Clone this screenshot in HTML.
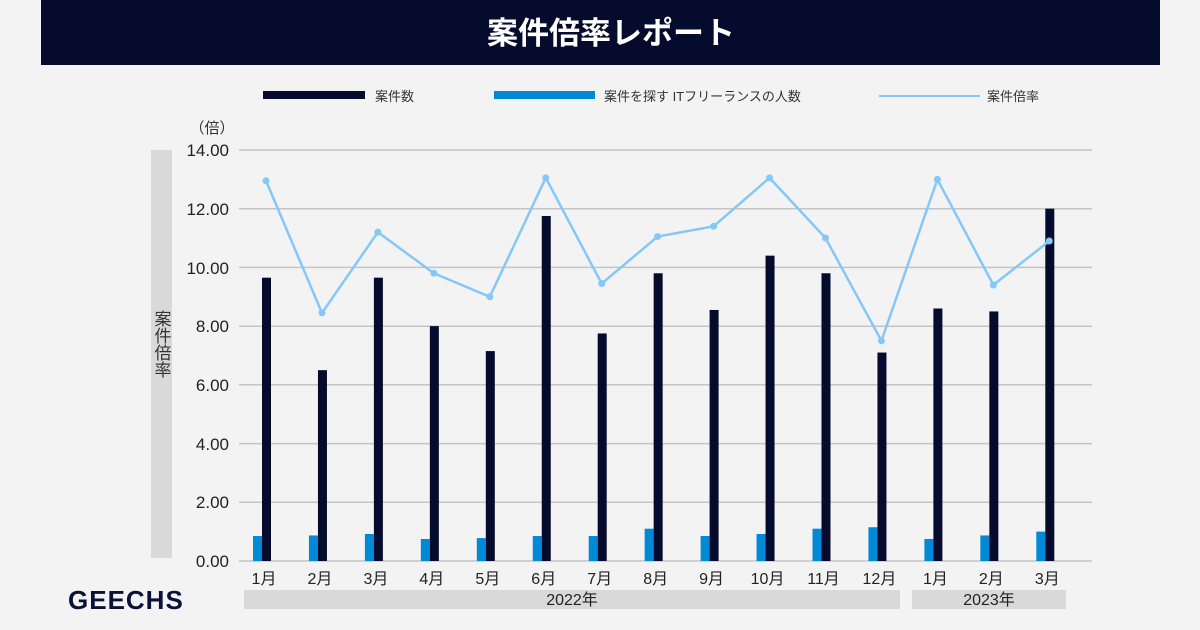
<!DOCTYPE html>
<html><head><meta charset="utf-8"><style>
html,body{margin:0;padding:0;background:#f3f3f3;}
svg{display:block}
text{font-family:"Liberation Sans","Noto Sans CJK JP",sans-serif;}
</style></head><body>
<svg width="1200" height="630" viewBox="0 0 1200 630" xmlns="http://www.w3.org/2000/svg">
<rect width="1200" height="630" fill="#f3f3f3"/>
<rect x="41" y="0" width="1119" height="65" fill="#050b2c"/>
<text x="611" y="44" fill="#fff" font-size="31" font-weight="bold" text-anchor="middle">案件倍率レポート</text>
<!-- legend -->
<rect x="263" y="91" width="102" height="8" fill="#050b2c"/>
<text x="375" y="101" font-size="13" fill="#333">案件数</text>
<rect x="494" y="91" width="101" height="8" fill="#0089d6"/>
<text x="604" y="101" font-size="13" fill="#333">案件を探す ITフリーランスの人数</text>
<line x1="879" y1="96" x2="980" y2="96" stroke="#85c8f7" stroke-width="2"/>
<text x="987" y="101" font-size="13" fill="#333">案件倍率</text>
<!-- y label -->
<rect x="151" y="150" width="21" height="408" fill="#d9d9d9"/>
<text x="161" y="310" font-size="17" fill="#333" writing-mode="tb" text-anchor="start">案件倍率</text>
<text x="212" y="133" font-size="15" fill="#333" text-anchor="middle">（倍）</text>
<g stroke="#c4c4c4" stroke-width="1.5">
<line x1="239" y1="150" x2="1092" y2="150"/>
<line x1="239" y1="208.7" x2="1092" y2="208.7"/>
<line x1="239" y1="267.4" x2="1092" y2="267.4"/>
<line x1="239" y1="326.2" x2="1092" y2="326.2"/>
<line x1="239" y1="384.8" x2="1092" y2="384.8"/>
<line x1="239" y1="443.6" x2="1092" y2="443.6"/>
<line x1="239" y1="502.3" x2="1092" y2="502.3"/>
<line x1="239" y1="561" x2="1092" y2="561"/>
</g>
<g font-size="17" fill="#222" text-anchor="end">
<text x="229" y="156">14.00</text>
<text x="229" y="215">12.00</text>
<text x="229" y="274">10.00</text>
<text x="229" y="332">8.00</text>
<text x="229" y="391">6.00</text>
<text x="229" y="450">4.00</text>
<text x="229" y="508">2.00</text>
<text x="229" y="567">0.00</text>
</g>
<g id="bars"></g>
<polyline id="ln" fill="none" stroke="#85c8f7" stroke-width="2.5"/>
<g id="dots" fill="#85c8f7"></g>
<g id="xl" font-size="16" fill="#222" text-anchor="middle"></g>
<rect x="244" y="590" width="656" height="19" fill="#d9d9d9"/>
<rect x="912" y="590" width="154" height="19" fill="#d9d9d9"/>
<text x="572" y="605" font-size="16" fill="#222" text-anchor="middle">2022年</text>
<text x="989" y="605" font-size="16" fill="#222" text-anchor="middle">2023年</text>
<text x="68" y="609" font-size="26" font-weight="bold" fill="#0b1238" letter-spacing="1">GEECHS</text>
</svg>
<script>
var d=[9.65,6.5,9.65,8.0,7.15,11.75,7.75,9.8,8.55,10.4,9.8,7.1,8.6,8.5,12.0];
var b=[0.85,0.87,0.92,0.75,0.78,0.85,0.85,1.1,0.85,0.92,1.1,1.15,0.75,0.87,1.0];
var l=[12.95,8.45,11.2,9.8,9.0,13.05,9.45,11.05,11.4,13.05,11.0,7.5,13.0,9.4,10.9];
var m=["1月","2月","3月","4月","5月","6月","7月","8月","9月","10月","11月","12月","1月","2月","3月"];
function Y(v){return 561-v*29.36;}
var ns="http://www.w3.org/2000/svg",g=document.getElementById("bars"),dg=document.getElementById("dots"),xl=document.getElementById("xl"),pts=[];
for(var i=0;i<15;i++){var c=266+i*55.95;
var r=document.createElementNS(ns,"rect");r.setAttribute("x",c-13);r.setAttribute("width",9);r.setAttribute("y",Y(b[i]));r.setAttribute("height",561-Y(b[i]));r.setAttribute("fill","#0089d6");g.appendChild(r);
r=document.createElementNS(ns,"rect");r.setAttribute("x",c-4);r.setAttribute("width",9);r.setAttribute("y",Y(d[i]));r.setAttribute("height",561-Y(d[i]));r.setAttribute("fill","#050b2c");g.appendChild(r);
pts.push(c+","+Y(l[i]));
var ci=document.createElementNS(ns,"circle");ci.setAttribute("cx",c);ci.setAttribute("cy",Y(l[i]));ci.setAttribute("r",3.5);dg.appendChild(ci);
var t=document.createElementNS(ns,"text");t.setAttribute("x",c-2);t.setAttribute("y",584);t.textContent=m[i];xl.appendChild(t);}
document.getElementById("ln").setAttribute("points",pts.join(" "));
</script>
</body></html>
